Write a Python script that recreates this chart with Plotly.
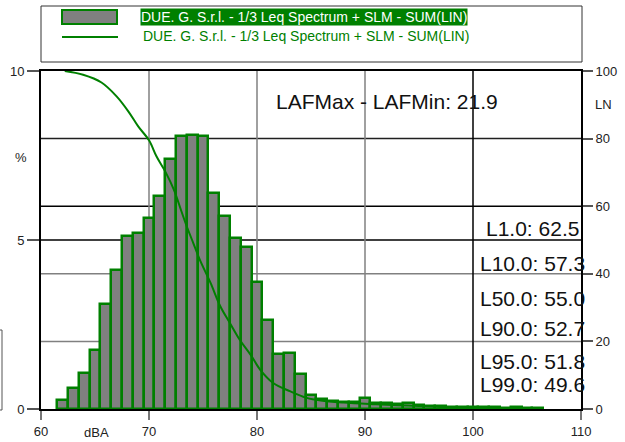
import plotly.graph_objects as go

# ---- data ----
bin_centers = list(range(62, 107))
bin_percent = [0.27, 0.61, 1.07, 1.75, 3.12, 4.10, 5.13, 5.21, 5.65, 6.29,
               7.40, 8.07, 8.11, 8.09, 6.39, 5.70, 5.06, 4.79, 3.76, 2.64,
               1.63, 1.66, 1.04, 0.40, 0.30, 0.24, 0.22, 0.20, 0.34, 0.19,
               0.17, 0.15, 0.18, 0.12, 0.10, 0.08, 0.07, 0.06, 0.06, 0.05,
               0.05, 0.04, 0.05, 0.04, 0.03]
ln_dba = [62.2, 63.9, 65.6, 67.0, 68.1, 69.0, 70.0, 70.7, 71.5, 72.3, 73.0, 73.5,
          74.1, 74.7, 75.7, 76.6, 77.5, 78.4, 79.4, 80.3, 81.5, 83.1, 84.6, 85.9,
          88.0, 91.0, 94.0, 97.0, 100.0, 103.0, 106.5]
ln_values = [100.0, 98.9, 96.6, 92.5, 88.0, 83.6, 79.5, 74.7, 70.3, 64.9, 58.5, 54.0,
             49.1, 44.2, 37.3, 30.4, 25.4, 20.5, 16.1, 11.6, 7.7, 5.2, 3.3, 2.5,
             1.9, 1.4, 1.0, 0.6, 0.4, 0.2, 0.1]
series_name = "DUE. G. S.r.l. - 1/3 Leq Spectrum + SLM - SUM(LIN)"
stat_text = "LAFMax - LAFMin: 21.9"
ln_labels = ["L1.0: 62.5", "L10.0: 57.3", "L50.0: 55.0",
             "L90.0: 52.7", "L95.0: 51.8", "L99.0: 49.6"]
x_ticks = [60, 70, 80, 90, 100, 110]
y_ticks = [0, 5, 10]
y2_ticks = [0, 20, 40, 60, 80, 100]

FONT = "Arial, Liberation Sans, sans-serif"
GREEN = "#008000"

fig = go.Figure()
fig.add_trace(go.Bar(x=bin_centers, y=bin_percent, width=1,
                     marker=dict(color="#808080", line=dict(color=GREEN, width=2.5)),
                     showlegend=False, hoverinfo="skip"))
fig.add_trace(go.Scatter(x=ln_dba, y=ln_values, yaxis="y2", mode="lines",
                         line=dict(color=GREEN, width=2, shape="spline"),
                         showlegend=False, hoverinfo="skip"))

# gridlines
shapes = []
for v, c in [(20, "#808080"), (40, "#808080"), (50, "#000000"), (60, "#000000"), (80, "#202020")]:
    shapes.append(dict(type="line", xref="paper", yref="y2", x0=0, x1=1, y0=v, y1=v,
                       line=dict(color=c, width=1.5), layer="below"))
for v, c in [(70, "#808080"), (80, "#808080"), (90, "#808080"), (100, "#000000")]:
    shapes.append(dict(type="line", xref="x", yref="paper", x0=v, x1=v, y0=0, y1=1,
                       line=dict(color=c, width=1.5), layer="below"))

# legend box (drawn)
px = lambda p: (p - 41) / 540
py = lambda p: (409 - p) / 338
shapes.append(dict(type="rect", xref="paper", yref="paper", x0=px(41), x1=px(582),
                   y0=py(62), y1=py(6), line=dict(color="#333", width=1)))
shapes.append(dict(type="rect", xref="paper", yref="paper", x0=px(62), x1=px(117),
                   y0=py(24), y1=py(10), fillcolor="#808080", line=dict(color=GREEN, width=2)))
shapes.append(dict(type="line", xref="paper", yref="paper", x0=px(62), x1=px(118),
                   y0=py(37), y1=py(37), line=dict(color=GREEN, width=2)))
# clipped box at far left
shapes.append(dict(type="rect", xref="paper", yref="paper", x0=px(-10), x1=px(2),
                   y0=py(410), y1=py(330), line=dict(color="#555", width=1)))

annotations = [
    dict(xref="paper", yref="paper", x=px(140), y=py(17), xanchor="left", yanchor="middle",
         text=series_name, showarrow=False, bgcolor=GREEN, borderpad=0,
         font=dict(family=FONT, size=14, color="white")),
    dict(xref="paper", yref="paper", x=px(141), y=py(36), xanchor="left", yanchor="middle",
         text=series_name, showarrow=False, font=dict(family=FONT, size=14, color=GREEN)),
    dict(xref="paper", yref="paper", x=px(387), y=py(101), xanchor="center", yanchor="middle",
         text=stat_text, showarrow=False, font=dict(family=FONT, size=21, color="#111")),
    dict(xref="paper", yref="paper", x=px(21), y=py(157), xanchor="center", yanchor="middle",
         text="%", showarrow=False, font=dict(family=FONT, size=13, color="#222")),
    dict(xref="paper", yref="paper", x=px(603), y=py(104), xanchor="center", yanchor="middle",
         text="LN", showarrow=False, font=dict(family=FONT, size=13, color="#222")),
    dict(xref="paper", yref="paper", x=px(96), y=py(432), xanchor="center", yanchor="middle",
         text="dBA", showarrow=False, font=dict(family=FONT, size=13, color="#222")),
]
ln_y = [229, 263, 298, 328, 361, 384]
for t, yy in zip(ln_labels, ln_y):
    annotations.append(dict(xref="paper", yref="paper", x=px(532), y=py(yy),
                            xanchor="center", yanchor="middle", text=t, showarrow=False,
                            font=dict(family=FONT, size=21, color="#111")))

fig.update_layout(
    width=625, height=442,
    margin=dict(l=41, r=44, t=71, b=33, autoexpand=False),
    paper_bgcolor="white", plot_bgcolor="white",
    bargap=0,
    hovermode=False,
    font=dict(family=FONT, size=13, color="#222"),
    xaxis=dict(range=[60, 110], tickvals=x_ticks, showgrid=False, zeroline=False,
               showline=True, linecolor="black", linewidth=2, mirror=True, automargin=False,
               ticks="outside", ticklen=9, tickcolor="#777", tickwidth=1.5),
    yaxis=dict(range=[0, 10], tickvals=y_ticks, showgrid=False, zeroline=False,
               showline=True, linecolor="black", linewidth=2, automargin=False,
               ticks="outside", ticklen=12, tickcolor="#555", tickwidth=1.5),
    yaxis2=dict(range=[0, 100], tickvals=y2_ticks, overlaying="y", side="right",
                showgrid=False, zeroline=False, showline=True, linecolor="black", automargin=False,
                linewidth=2, ticks="outside", ticklen=10, tickcolor="#555", tickwidth=1.5),
    shapes=shapes,
    annotations=annotations,
)
fig.write_html("out.html", config={"displayModeBar": False},
               post_script="document.body.style.margin='0';document.body.style.overflow='hidden';")
